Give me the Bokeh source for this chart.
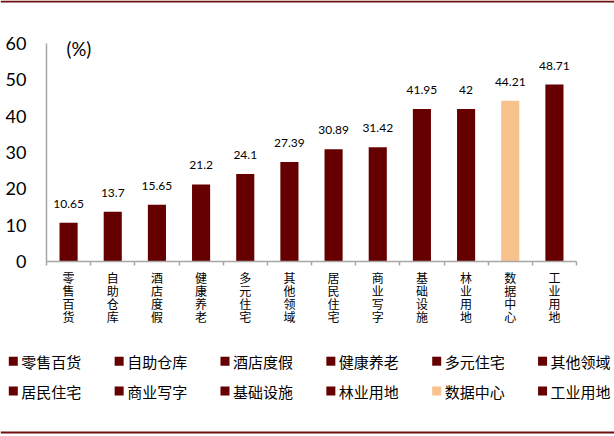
from bokeh.plotting import figure
from bokeh.models import (ColumnDataSource, Range1d, FixedTicker, Label, LinearAxis)
from bokeh.core.properties import value
from bokeh.embed import file_html
from bokeh.resources import INLINE

categories = ["零售百货", "自助仓库", "酒店度假", "健康养老", "多元住宅", "其他领域",
              "居民住宅", "商业写字", "基础设施", "林业用地", "数据中心", "工业用地"]
values = [10.65, 13.7, 15.65, 21.2, 24.1, 27.39, 30.89, 31.42, 41.95, 42, 44.21, 48.71]
value_labels = ["10.65", "13.7", "15.65", "21.2", "24.1", "27.39", "30.89", "31.42",
                "41.95", "42", "44.21", "48.71"]
highlight = "数据中心"
y_ticks = [0, 10, 20, 30, 40, 50, 60]
y_tick_labels = ["0", "10", "20", "30", "40", "50", "60"]
unit_label = "(%)"

# ---- styles / layout (pixels) ----
DARK = "#660000"
LIGHT = "#F8C28F"
AXIS = "#A6A6A6"
RULE = "#6E1010"
W, H = 614, 436
AX_LEFT, AX_RIGHT = 46, 576      # plot area horizontal extent (px)
AX_TOP, AX_BOTTOM = 43, 261      # y=60 and y=0 (px)
YMAX = 60

n = len(categories)
sx = (AX_RIGHT - AX_LEFT) / n
sy = (AX_BOTTOM - AX_TOP) / YMAX


def px_x(px):
    return (px - AX_LEFT) / sx


def px_y(py):
    return (AX_BOTTOM - py) / sy


colors = [LIGHT if c == highlight else DARK for c in categories]
xs = [i + 0.5 for i in range(n)]
src = ColumnDataSource(dict(x=xs, top=values, color=colors, label=value_labels))

p = figure(width=W, height=H, output_backend="svg", toolbar_location=None,
           x_range=Range1d(px_x(0), px_x(W)), y_range=Range1d(px_y(H), px_y(0)),
           x_axis_type=None, y_axis_type=None, min_border=0)
p.outline_line_color = None
p.background_fill_color = "white"
p.border_fill_color = "white"

# bars
p.vbar(x="x", top="top", bottom=0, width=0.41, source=src,
       fill_color="color", line_color=None)

# axes (lines + ticks), placed at the data origin; their labels are drawn as text below
yax = LinearAxis(fixed_location=0, bounds=(0, YMAX),
                 ticker=FixedTicker(ticks=y_ticks, minor_ticks=[]),
                 axis_line_color=AXIS, axis_line_width=1.5,
                 major_tick_out=0, major_tick_in=0, minor_tick_out=0, minor_tick_in=0,
                 major_label_text_font_size="0px", major_label_text_color=None,
                 major_label_standoff=0)
p.add_layout(yax, "left")

xax = LinearAxis(fixed_location=0, bounds=(0, n),
                 ticker=FixedTicker(ticks=list(range(n + 1)), minor_ticks=[]),
                 axis_line_color=AXIS, axis_line_width=1.5,
                 major_tick_out=0, major_tick_in=4, major_tick_line_color=AXIS,
                 major_tick_line_width=1.5, minor_tick_out=0, minor_tick_in=0,
                 major_label_text_font_size="0px", major_label_text_color=None,
                 major_label_standoff=0)
p.add_layout(xax, "above")

# y tick labels
p.text(x=[0] * len(y_ticks), y=y_ticks, text=y_tick_labels, x_offset=-20,
       text_align="right", text_baseline="middle", text_font=value("Lato"),
       text_font_size="18px", text_color="#000000")

# category labels, written vertically one character per line
cx, ch, cdy = [], [], []
for i, c in enumerate(categories):
    for k, t in enumerate(c):
        cx.append(i + 0.5)
        ch.append(t)
        cdy.append(15.5 + 13.2 * k)
csrc = ColumnDataSource(dict(x=cx, y=[0] * len(cx), t=ch, dy=cdy))
p.text(x="x", y="y", text="t", y_offset="dy", source=csrc, text_align="center",
       text_baseline="middle", text_font=value("Noto Sans CJK SC"),
       text_font_size="12px", text_color="#000000")

# value labels
p.text(x="x", y="top", text="label", source=src, text_align="center",
       text_baseline="alphabetic", y_offset=-19, text_font=value("Lato"),
       text_font_size="12px", text_color="#000000")

# unit
p.add_layout(Label(x=px_x(66), y=px_y(48), text=unit_label, text_baseline="middle",
                   text_font="Lato", text_font_size="18.5px", text_color="#000000"))

# legend (two rows of six)
ncol = 6
lx_px = [12.8 + 105.85 * (i % ncol) for i in range(n)]
ly_px = [360.7 if i < ncol else 390.5 for i in range(n)]
lsrc = ColumnDataSource(dict(x=[px_x(v) for v in lx_px], y=[px_y(v) for v in ly_px],
                             tx=[px_x(v + 8) for v in lx_px], color=colors, cat=categories))
p.scatter(x="x", y="y", source=lsrc, marker="square", size=9,
          fill_color="color", line_color=None)
p.text(x="tx", y="y", text="cat", source=lsrc, text_align="left", text_baseline="middle",
       text_font=value("Noto Sans CJK SC"), text_font_size="15px", text_color="#000000")

# top and bottom rules
p.segment(x0=[px_x(0), px_x(0)], y0=[px_y(1), px_y(432)],
          x1=[px_x(W), px_x(W)], y1=[px_y(1), px_y(432)],
          line_color=RULE, line_width=2)

open("out.html", "w").write(file_html(p, INLINE))
